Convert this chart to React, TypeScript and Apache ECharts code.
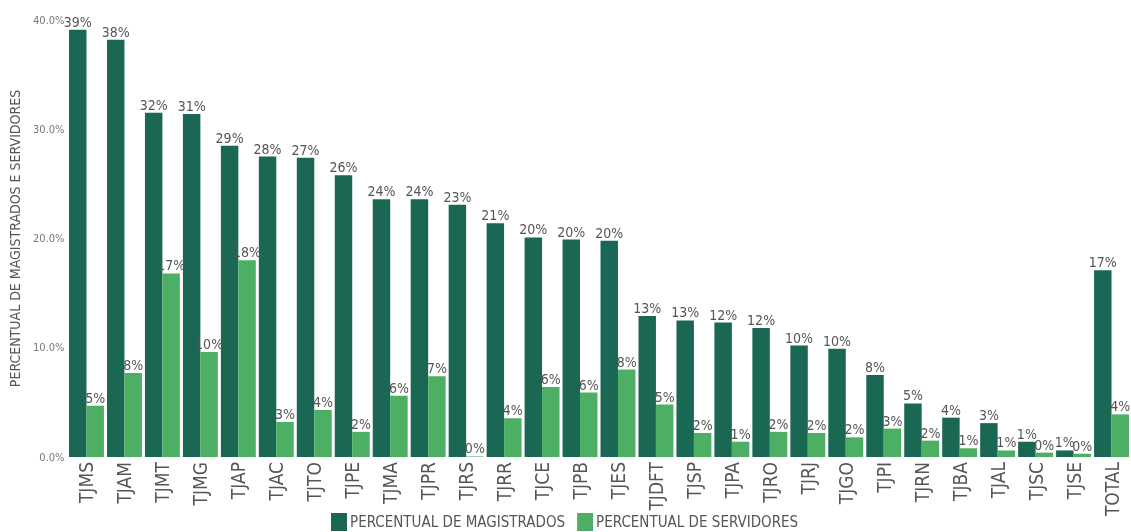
import React, { useEffect, useRef } from "react";
import * as echarts from "echarts";

const categories = ["TJMS","TJAM","TJMT","TJMG","TJAP","TJAC","TJTO","TJPE","TJMA","TJPR","TJRS","TJRR","TJCE","TJPB","TJES","TJDFT","TJSP","TJPA","TJRO","TJRJ","TJGO","TJPI","TJRN","TJBA","TJAL","TJSC","TJSE","TOTAL"];
const magistrados = [39.1,38.2,31.5,31.4,28.5,27.5,27.4,25.8,23.6,23.6,23.1,21.4,20.1,19.9,19.8,12.9,12.5,12.3,11.8,10.2,9.9,7.5,4.9,3.6,3.1,1.4,0.6,17.1];
const servidores = [4.7,7.7,16.8,9.6,18.0,3.2,4.3,2.3,5.6,7.4,0.05,3.55,6.4,5.9,8.0,4.8,2.2,1.4,2.3,2.2,1.8,2.6,1.5,0.8,0.6,0.4,0.3,3.9];
const yTicks = [0, 10, 20, 30, 40];
const seriesNames = ["PERCENTUAL DE MAGISTRADOS", "PERCENTUAL DE SERVIDORES"];

const FONT = "'Liberation Sans Narrow', 'DejaVu Sans Condensed', 'Roboto', sans-serif";

export default function App() {
  const ref = useRef<HTMLDivElement>(null);
  useEffect(() => {
    if (!ref.current) return;
    const chart = echarts.init(ref.current, null, { renderer: "svg" });
    const label = {
      show: true,
      position: "top",
      distance: 1,
      color: "#555",
      fontFamily: FONT,
      fontSize: 14,
      formatter: (p: any) => Math.round(p.value) + "%",
    };
    chart.setOption({
      animation: false,
      textStyle: { fontFamily: FONT },
      grid: { left: 67.5, right: 0.5, top: 20, bottom: 75, containLabel: false, outerBoundsMode: "none" },
      legend: {
        data: seriesNames,
        left: 326,
        top: 508,
        itemWidth: 16,
        itemHeight: 18,
        itemGap: 12,
        icon: "rect",
        textStyle: { color: "#555", fontSize: 15, fontFamily: FONT, padding: [0, 0, 0, -2] },
      },
      xAxis: {
        type: "category",
        data: categories,
        axisLine: { show: false },
        axisTick: { show: false },
        axisLabel: { rotate: 90, color: "#555", fontSize: 19, fontFamily: FONT, margin: 5, interval: 0 },
      },
      yAxis: {
        type: "value",
        min: yTicks[0],
        max: yTicks[yTicks.length - 1],
        interval: 10,
        name: "PERCENTUAL DE MAGISTRADOS E SERVIDORES",
        nameLocation: "middle",
        nameRotate: 90,
        nameGap: 44,
        nameTextStyle: { color: "#555", fontSize: 14, fontFamily: FONT },
        splitLine: { show: false },
        axisLine: { show: false },
        axisTick: { show: false },
        axisLabel: { color: "#777", fontSize: 11, fontFamily: FONT, margin: 3, formatter: (v: number) => v.toFixed(1) + "%" },
      },
      series: [
        { name: seriesNames[0], type: "bar", data: magistrados, itemStyle: { color: "#1a6754" }, barGap: "0%", barCategoryGap: "8%", label },
        { name: seriesNames[1], type: "bar", data: servidores, itemStyle: { color: "#4caf64" }, label },
      ],
    });
    return () => chart.dispose();
  }, []);
  return <div ref={ref} style={{ position: "fixed", left: 0, top: 0, width: 1131, height: 532 }} />;
}
